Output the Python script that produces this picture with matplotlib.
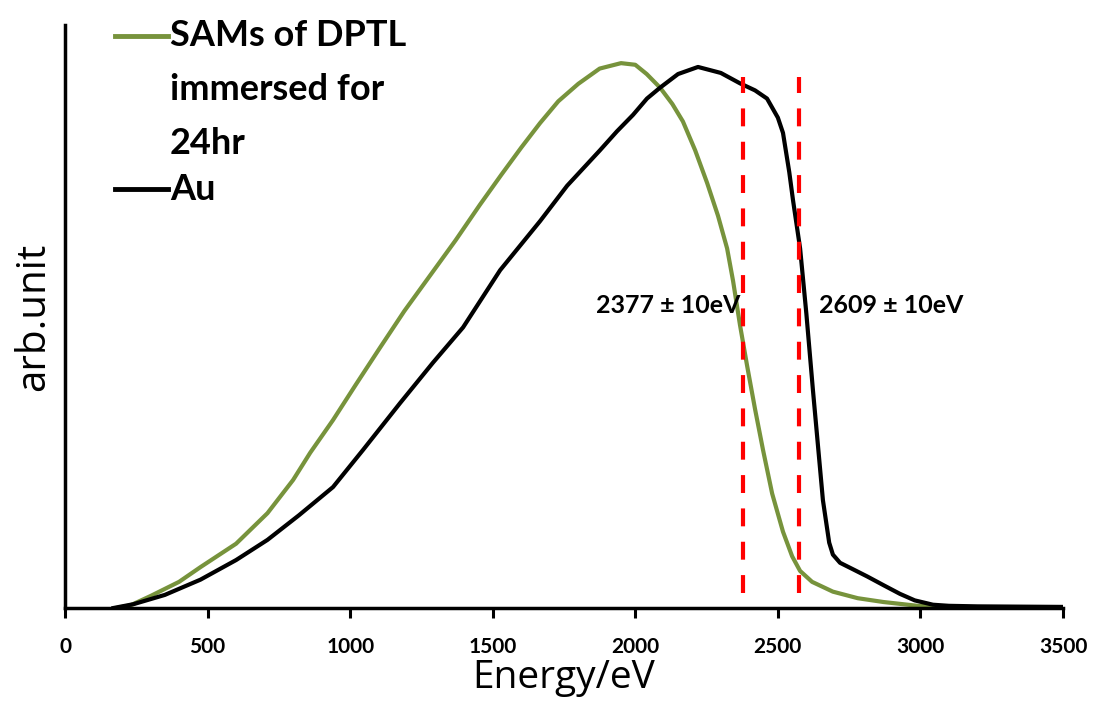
import matplotlib

matplotlib.use("Agg")
import matplotlib.pyplot as plt
from matplotlib.lines import Line2D

# --- data (energy in eV, intensity in arb. units) ---
sam_energy = [180, 230, 300, 400, 475, 600, 710, 800, 860, 940, 1020, 1105, 1190,
              1280, 1370, 1455, 1530, 1600, 1666, 1730, 1800, 1875, 1950, 2000,
              2040, 2087, 2130, 2167, 2210, 2252, 2290, 2322, 2343, 2367, 2392,
              2420, 2448, 2480, 2518, 2550, 2578, 2620, 2693, 2780, 2870, 2990,
              3100, 3500]
sam_signal = [0.0, 0.005, 0.022, 0.048, 0.075, 0.118, 0.174, 0.235, 0.285, 0.345,
              0.410, 0.478, 0.545, 0.610, 0.675, 0.740, 0.795, 0.845, 0.890, 0.930,
              0.962, 0.990, 1.0, 0.997, 0.980, 0.955, 0.925, 0.893, 0.840, 0.780,
              0.720, 0.660, 0.600, 0.520, 0.445, 0.365, 0.290, 0.210, 0.140, 0.095,
              0.068, 0.048, 0.030, 0.018, 0.011, 0.004, 0.002, 0.0]

au_energy = [170, 240, 350, 475, 600, 710, 820, 940, 1045, 1175, 1290, 1396, 1526,
             1666, 1761, 1876, 1936, 1992, 2041, 2087, 2150, 2220, 2300, 2367, 2420,
             2462, 2500, 2518, 2540, 2553, 2578, 2600, 2623, 2658, 2680, 2693, 2718,
             2760, 2813, 2870, 2928, 2980, 3044, 3100, 3200, 3500]
au_signal = [0.0, 0.007, 0.024, 0.052, 0.088, 0.125, 0.170, 0.222, 0.290, 0.376,
             0.450, 0.515, 0.620, 0.710, 0.775, 0.840, 0.875, 0.905, 0.935, 0.955,
             0.980, 0.993, 0.982, 0.963, 0.950, 0.935, 0.900, 0.872, 0.800, 0.749,
             0.660, 0.540, 0.400, 0.198, 0.120, 0.098, 0.083, 0.072, 0.058, 0.042,
             0.026, 0.014, 0.006, 0.004, 0.003, 0.002]

cutoff_lines = [2377, 2575]
cutoff_labels = ["2377 ± 10eV", "2609 ± 10eV"]
x_ticks = [0, 500, 1000, 1500, 2000, 2500, 3000, 3500]

GREEN = "#77933C"
FONT = ["Lato", "DejaVu Sans"]
LABEL_FONT = ["Open Sans", "DejaVu Sans"]

fig = plt.figure(figsize=(10.95, 7.09), dpi=100)
ax = fig.add_axes([65 / 1095, 1 - 608 / 709, 998 / 1095, 583 / 709])

ax.plot(sam_energy, sam_signal, color=GREEN, lw=3.0, solid_joinstyle="round")
ax.plot(au_energy, au_signal, color="black", lw=3.0, solid_joinstyle="round")
for xc in cutoff_lines:
    ax.plot([xc, xc], [0.027, 0.975], color="red", lw=3.0, dashes=(4.3, 3.7))

ax.text(2377 - 8, 0.555, cutoff_labels[0], ha="right", va="center",
        fontsize=18, fontweight="bold", family=FONT)
ax.text(2645, 0.555, cutoff_labels[1], ha="left", va="center",
        fontsize=18, fontweight="bold", family=FONT)

ax.set_xlim(0, 3500)
ax.set_ylim(0, 1.07)
ax.set_xticks(x_ticks)
ax.set_yticks([])
for side in ("top", "right"):
    ax.spines[side].set_visible(False)
for side in ("left", "bottom"):
    ax.spines[side].set_linewidth(2.5)
ax.tick_params(axis="x", direction="out", length=7, width=2.2, pad=14)
for lab in ax.get_xticklabels():
    lab.set_fontsize(15)
    lab.set_fontweight("bold")
    lab.set_family(FONT)

ax.set_xlabel("Energy/eV", fontsize=28, family=LABEL_FONT, labelpad=1)
ax.set_ylabel("arb.unit", fontsize=29, family=LABEL_FONT, labelpad=8)

# legend drawn by hand to match the original layout
legend = [("SAMs of DPTL", GREEN, 36), ("immersed for", None, 90),
          ("24hr", None, 143), ("Au", "black", 189)]
for text, col, ypx in legend:
    yf = 1 - ypx / 709
    if col is not None:
        fig.add_artist(Line2D([115 / 1095, 168 / 1095], [yf, yf], color=col, lw=3.5))
    fig.text(170 / 1095, yf, text, ha="left", va="center", fontsize=26,
             fontweight="bold", family=FONT)

fig.savefig("out.png", dpi=100)
